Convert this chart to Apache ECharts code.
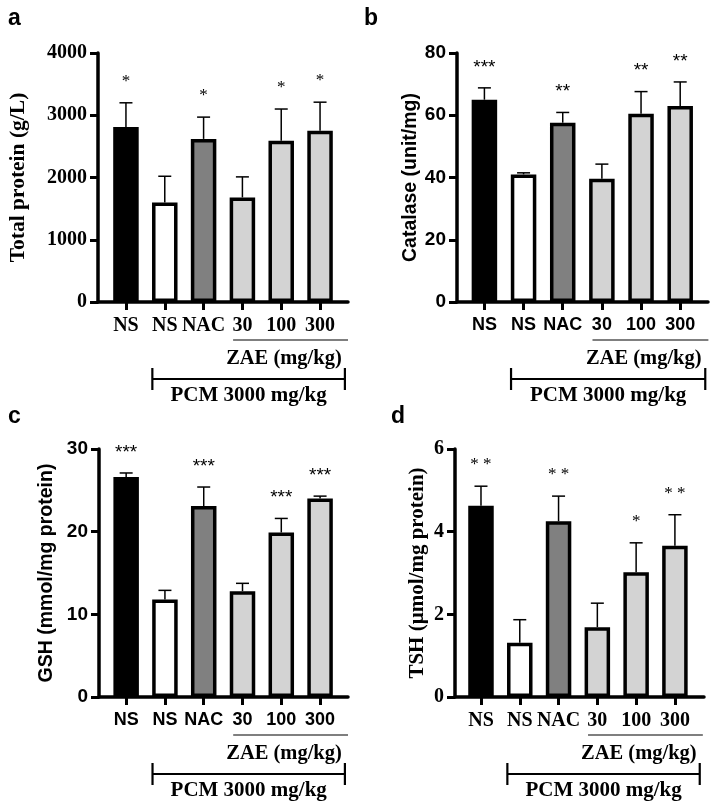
<!DOCTYPE html>
<html><head><meta charset="utf-8">
<script src="https://cdn.jsdelivr.net/npm/echarts@6/dist/echarts.min.js"></script>
<style>html,body{margin:0;padding:0;background:#fff}#c{width:712px;height:803px}</style>
</head><body><div id="c"></div>
<script>
// ---------- data ----------
const categories = ['NS', 'NS', 'NAC', '30', '100', '300'];
const barColors = ['#000000', '#ffffff', '#808080', '#d3d3d3', '#d3d3d3', '#d3d3d3'];

// a: Total protein (g/L)
const proteinMean = [2810, 1600, 2620, 1680, 2590, 2750];
const proteinSD   = [390, 420, 350, 330, 510, 460];
const proteinStars = ['*', '', '*', '', '*', '*'];
const proteinTicks = [0, 1000, 2000, 3000, 4000];

// b: Catalase (unit/mg)
const catalaseMean = [65, 41, 57.6, 39.6, 60.5, 63];
const catalaseSD   = [3.8, 0.5, 3.3, 4.7, 7.1, 7.7];
const catalaseStars = ['***', '', '**', '', '**', '**'];
const catalaseTicks = [0, 20, 40, 60, 80];

// c: GSH (mmol/mg protein)
const gshMean = [26.6, 11.8, 23.1, 12.8, 19.9, 24.0];
const gshSD   = [0.5, 1.1, 2.3, 0.95, 1.7, 0.3];
const gshStars = ['***', '', '***', '', '***', '***'];
const gshTicks = [0, 10, 20, 30];

// d: TSH (µmol/mg protein)
const tshMean = [4.63, 1.31, 4.25, 1.69, 3.02, 3.66];
const tshSD   = [0.47, 0.56, 0.61, 0.58, 0.71, 0.75];
const tshStars = ['* *', '', '* *', '', '*', '* *'];
const tshTicks = [0, 2, 4, 6];

// group annotation labels
const groupZAE = 'ZAE (mg/kg)';
const groupPCM = 'PCM 3000 mg/kg';
const zaeSpan = [2.76, 5.72];   // category positions spanned by ZAE underline
const zaeLabelAt = 4.07;
const pcmSpan = [0.68, 5.64];   // category positions spanned by PCM bracket

// ---------- styling / layout ----------
const SERIF = '"Liberation Serif", "Times New Roman", serif';
const SANS = '"Liberation Sans", Arial, sans-serif';

const panels = [
  { letter: 'a', lx: 3, ly: 2, grid: { left: 98, top: 53, width: 250, height: 249 }, xmin: -0.72, xmax: 5.72,
    mean: proteinMean, sd: proteinSD, stars: proteinStars, ticks: proteinTicks,
    name: 'Total protein (g/L)', nameGap: 69, font: SERIF, tickSize: 20, xSize: 20, nameSize: 21.5, starFont: SERIF, starSize: 17 },
  { letter: 'b', lx: 359, ly: 2, grid: { left: 457, top: 53, width: 251, height: 249 }, xmin: -0.70, xmax: 5.71,
    mean: catalaseMean, sd: catalaseSD, stars: catalaseStars, ticks: catalaseTicks,
    name: 'Catalase (unit/mg)', nameGap: 36, font: SANS, tickSize: 19, xSize: 18, nameSize: 19.5, starFont: SANS, starSize: 19 },
  { letter: 'c', lx: 3, ly: 400, grid: { left: 99, top: 449, width: 249, height: 248 }, xmin: -0.70, xmax: 5.72,
    mean: gshMean, sd: gshSD, stars: gshStars, ticks: gshTicks,
    name: 'GSH (mmol/mg protein)', nameGap: 42, font: SANS, tickSize: 19, xSize: 18, nameSize: 19.5, starFont: SANS, starSize: 19 },
  { letter: 'd', lx: 386, ly: 400, grid: { left: 455, top: 449, width: 249, height: 248 }, xmin: -0.67, xmax: 5.75,
    mean: tshMean, sd: tshSD, stars: tshStars, ticks: tshTicks,
    name: 'TSH (µmol/mg protein)', nameGap: 27, font: SERIF, tickSize: 20, xSize: 20, nameSize: 21, starFont: SERIF, starSize: 17 }
];

const option = { animation: false, backgroundColor: '#fff', title: [], grid: [], xAxis: [], yAxis: [], series: [] };

panels.forEach((p, k) => {
  option.title.push({ text: p.letter, left: p.lx, top: p.ly,
    textStyle: { fontFamily: SANS, fontWeight: 'bold', fontSize: 23, color: '#000' } });
  option.grid.push(Object.assign({ containLabel: false }, p.grid));
  const idx = categories.map((_, i) => i);
  option.xAxis.push({
    gridIndex: k, type: 'value', min: p.xmin, max: p.xmax,
    axisLine: { show: true, onZero: false, lineStyle: { color: '#000', width: 3.5 } },
    axisTick: { show: true, customValues: idx, length: 8, lineStyle: { color: '#000', width: 3 } },
    axisLabel: { show: true, customValues: idx, formatter: v => categories[Math.round(v)], margin: 14,
      color: '#000', fontFamily: p.font, fontWeight: 'bold', fontSize: p.xSize },
    splitLine: { show: false }
  });
  const tmax = p.ticks[p.ticks.length - 1];
  option.yAxis.push({
    gridIndex: k, type: 'value', min: p.ticks[0], max: tmax, interval: p.ticks[1] - p.ticks[0],
    name: p.name, nameLocation: 'middle', nameRotate: 90, nameGap: p.nameGap,
    nameTextStyle: { color: '#000', fontFamily: p.font, fontWeight: 'bold', fontSize: p.nameSize },
    axisLine: { show: true, onZero: false, lineStyle: { color: '#000', width: 3.5 } },
    axisTick: { show: true, length: 8, lineStyle: { color: '#000', width: 3 } },
    axisLabel: { margin: 11, formatter: v => String(v), color: '#000', fontFamily: p.font, fontWeight: 'bold', fontSize: p.tickSize },
    splitLine: { show: false }
  });
  option.series.push({
    type: 'bar', xAxisIndex: k, yAxisIndex: k, barWidth: 25.5,
    itemStyle: { borderColor: '#000', borderWidth: 3.5 },
    data: p.mean.map((v, i) => ({ value: [i, v], itemStyle: { color: barColors[i] } })),
    z: 2
  });
  const stars = p.stars;
  option.series.push({
    type: 'custom', xAxisIndex: k, yAxisIndex: k, clip: false, z: 3,
    data: p.mean.map((v, i) => [i, v, v + p.sd[i]]),
    renderItem: (params, api) => {
      const i = api.value(0);
      const base = api.coord([i, api.value(1)]);
      const top = api.coord([i, api.value(2)]);
      const children = [
        { type: 'line', shape: { x1: base[0], y1: base[1], x2: top[0], y2: top[1] }, style: { stroke: '#000', lineWidth: 1.5 } },
        { type: 'line', shape: { x1: top[0] - 6.5, y1: top[1], x2: top[0] + 6.5, y2: top[1] }, style: { stroke: '#000', lineWidth: 1.5 } }
      ];
      const s = stars[params.dataIndex];
      if (s) children.push({ type: 'text', style: { text: s, x: top[0], y: top[1] - 30, align: 'center', verticalAlign: 'top',
        fill: '#000', fontFamily: p.starFont, fontSize: p.starSize } });
      return { type: 'group', children };
    }
  });
  option.series.push({
    type: 'custom', xAxisIndex: k, yAxisIndex: k, clip: false, z: 3,
    data: [[0, 0]], silent: true,
    renderItem: (params, api) => {
      const a0 = api.coord([zaeSpan[0], 0]), a1 = api.coord([zaeSpan[1], 0]);
      const b0 = api.coord([pcmSpan[0], 0]), b1 = api.coord([pcmSpan[1], 0]);
      const zc = api.coord([zaeLabelAt, 0]);
      const y0 = a0[1];
      const ann = { fill: '#000', fontFamily: SERIF, fontWeight: 'bold', align: 'center', verticalAlign: 'middle' };
      return { type: 'group', children: [
        { type: 'line', shape: { x1: a0[0], y1: y0 + 38, x2: a1[0], y2: y0 + 38 }, style: { stroke: '#000', lineWidth: 1.2 } },
        { type: 'text', style: Object.assign({ text: groupZAE, x: zc[0], y: y0 + 57, fontSize: 20.5 }, ann) },
        { type: 'line', shape: { x1: b0[0], y1: y0 + 77, x2: b1[0], y2: y0 + 77 }, style: { stroke: '#000', lineWidth: 2.2 } },
        { type: 'line', shape: { x1: b0[0], y1: y0 + 66, x2: b0[0], y2: y0 + 88 }, style: { stroke: '#000', lineWidth: 2.2 } },
        { type: 'line', shape: { x1: b1[0], y1: y0 + 66, x2: b1[0], y2: y0 + 88 }, style: { stroke: '#000', lineWidth: 2.2 } },
        { type: 'text', style: Object.assign({ text: groupPCM, x: (b0[0] + b1[0]) / 2, y: y0 + 94, fontSize: 21 }, ann) }
      ] };
    }
  });
});

const chart = echarts.init(document.getElementById('c'), null, { renderer: 'canvas' });
chart.setOption(option);
</script>
</body></html>
